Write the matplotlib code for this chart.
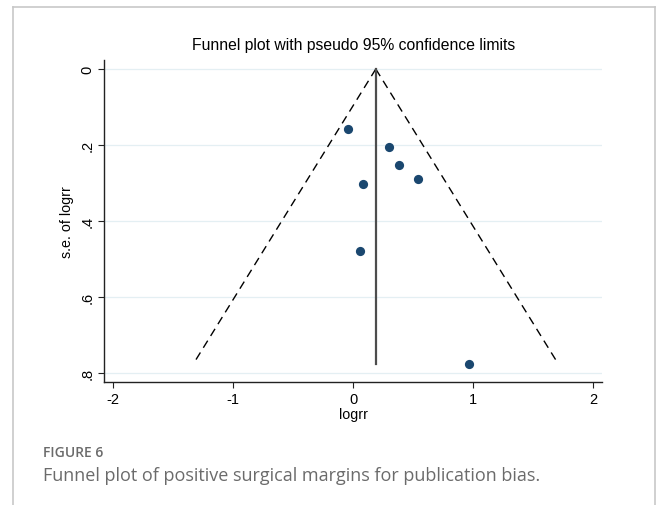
import numpy as np
import matplotlib
matplotlib.use("Agg")
import matplotlib.pyplot as plt
from matplotlib.lines import Line2D

# effect sizes (logrr) and their standard errors
logrr = [-0.047, 0.300, 0.381, 0.542, 0.083, 0.053, 0.967]
se_logrr = [0.158, 0.205, 0.252, 0.290, 0.302, 0.479, 0.776]
pooled = 0.187

x_ticks = [-2, -1, 0, 1, 2]
y_ticks = [0, 0.2, 0.4, 0.6, 0.8]
y_ticklabels = ["0", ".2", ".4", ".6", ".8"]

NAVY = "#1a476f"

plt.rcParams["font.family"] = ["Liberation Sans", "DejaVu Sans"]
plt.rcParams["axes.unicode_minus"] = False

fig = plt.figure(figsize=(6.58, 5.06), dpi=100)
ax = fig.add_axes([0.1585, 0.2425, 0.757, 0.6364])

# pseudo 95% limits
se_max = max(se_logrr)
se_line = np.array([0, se_max])
ax.plot(pooled - 1.96 * se_line, se_line, color="black", lw=1.0,
        linestyle=(0, (6, 4)))
ax.plot(pooled + 1.96 * se_line, se_line, color="black", lw=1.0,
        linestyle=(0, (6, 4)))
ax.plot([pooled, pooled], [0, se_max], color="#4d4d4d", lw=1.6)

ax.scatter(logrr, se_logrr, s=44, color=NAVY, zorder=3, linewidths=0)

ax.set_xlim(-2.075, 2.075)
ax.set_ylim(0.824, -0.023)
ax.set_xticks(x_ticks)
ax.set_yticks(y_ticks)
ax.set_yticklabels(y_ticklabels, rotation=90, va="center")
ax.tick_params(labelsize=10.5, length=4, width=0.8, color="#222222", pad=3)
ax.grid(axis="y", color="#e4eff3", lw=0.9)
ax.set_axisbelow(True)
for s in ["top", "right"]:
    ax.spines[s].set_visible(False)
for s in ["left", "bottom"]:
    ax.spines[s].set_color("#222222")
    ax.spines[s].set_linewidth(1.0)

ax.set_title("Funnel plot with pseudo 95% confidence limits", fontsize=11.3, pad=8)
ax.set_xlabel("logrr", fontsize=10.3, labelpad=1)
ax.set_ylabel("s.e. of logrr", fontsize=10.3, labelpad=5)

# caption frame and text
frame = dict(color="#c8c8c8", lw=1.2, transform=fig.transFigure)
fig.add_artist(Line2D([13 / 658, 655 / 658], [1 - 8 / 506, 1 - 8 / 506], **frame))
fig.add_artist(Line2D([13 / 658, 13 / 658], [0, 1 - 8 / 506], **frame))
fig.add_artist(Line2D([655 / 658, 655 / 658], [0, 1 - 8 / 506], **frame))

fig.text(43 / 658, 1 - 453 / 506, "FIGURE 6", fontsize=10, color="#6b6b6b",
         family="Open Sans", va="center", fontweight="semibold")
fig.text(43 / 658, 1 - 476 / 506,
         "Funnel plot of positive surgical margins for publication bias.",
         fontsize=13.0, color="#6b6b6b", family="Open Sans", va="center")

fig.savefig("out.png", dpi=100)
